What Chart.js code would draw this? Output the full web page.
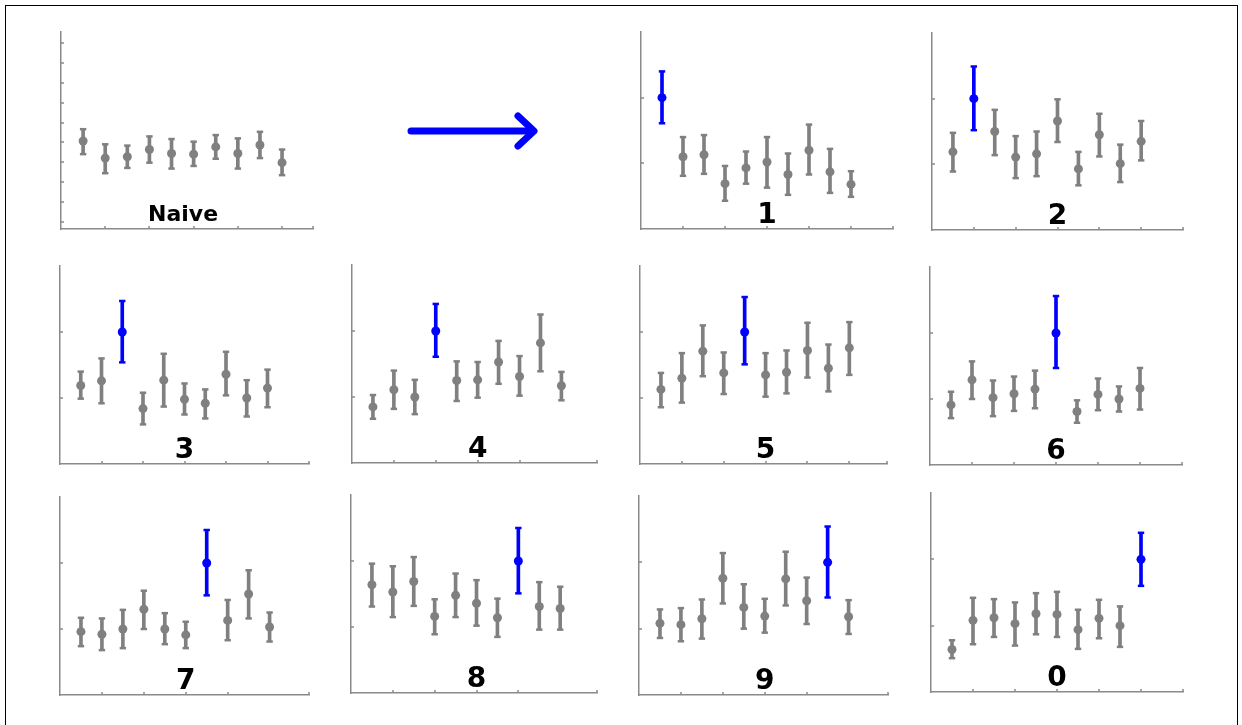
<!DOCTYPE html>
<html>
<head>
<meta charset="utf-8">
<script src="https://cdn.jsdelivr.net/npm/chart.js@4.4.1/dist/chart.umd.min.js"></script>
<style>
  html, body { margin: 0; padding: 0; background: #fff; width: 1242px; height: 725px; overflow: hidden; }
  #frame { position: absolute; left: 5px; top: 5px; width: 1233px; height: 740px; border: 1px solid #000; box-sizing: border-box; }
  .panel { position: absolute; }
  #arrow { position: absolute; left: 0; top: 0; }
</style>
</head>
<body>
<div id="frame"></div>
<svg id="arrow" width="1242" height="725">
  <g stroke="#0000ff" stroke-width="7" stroke-linecap="round" stroke-linejoin="round" fill="none">
    <line x1="411" y1="131" x2="532" y2="131"/>
    <polyline points="518,116 534,131 518,146"/>
  </g>
</svg>
<script>
// Stimulus positions along the x axis (same for every panel)
const positions = [0.5, 1, 1.5, 2, 2.5, 3, 3.5, 4, 4.5, 5];

// Panel labels, in drawing order
const panelLabels = ['Naive', '1', '2', '3', '4', '5', '6', '7', '8', '9', '0'];
// Index of the highlighted (blue) position in each panel, -1 for none
const highlighted = [-1, 0, 1, 2, 3, 4, 5, 6, 7, 8, 9];

// Response means and error-bar limits per panel
const meanNaive = [1.34, 1.08, 1.10, 1.21, 1.15, 1.14, 1.25, 1.15, 1.28, 1.01];
const lowNaive  = [1.14, 0.85, 0.93, 1.01, 0.92, 0.96, 1.07, 0.92, 1.08, 0.82];
const highNaive = [1.52, 1.29, 1.27, 1.41, 1.37, 1.33, 1.43, 1.38, 1.48, 1.21];

const mean1 = [2.00, 1.10, 1.13, 0.69, 0.93, 1.02, 0.83, 1.20, 0.87, 0.68];
const low1  = [1.61, 0.81, 0.84, 0.43, 0.69, 0.63, 0.52, 0.83, 0.55, 0.49];
const high1 = [2.40, 1.40, 1.43, 0.96, 1.18, 1.40, 1.15, 1.59, 1.22, 0.88];

const mean2 = [1.19, 2.00, 1.50, 1.11, 1.16, 1.66, 0.93, 1.45, 1.01, 1.35];
const low2  = [0.89, 1.52, 1.14, 0.79, 0.82, 1.34, 0.68, 1.12, 0.73, 1.06];
const high2 = [1.48, 2.49, 1.83, 1.43, 1.50, 1.99, 1.19, 1.77, 1.30, 1.66];

const mean3 = [1.19, 1.26, 2.00, 0.84, 1.27, 0.98, 0.92, 1.36, 1.00, 1.15];
const low3  = [0.99, 0.92, 1.54, 0.60, 0.87, 0.75, 0.69, 1.04, 0.72, 0.86];
const high3 = [1.40, 1.60, 2.47, 1.08, 1.67, 1.22, 1.13, 1.70, 1.27, 1.43];

const mean4 = [0.85, 1.11, 1.00, 2.00, 1.25, 1.26, 1.53, 1.31, 1.82, 1.17];
const low4  = [0.67, 0.82, 0.74, 1.61, 0.94, 0.99, 1.20, 1.02, 1.39, 0.95];
const high4 = [1.03, 1.40, 1.26, 2.41, 1.54, 1.53, 1.85, 1.62, 2.25, 1.38];

const mean5 = [1.13, 1.30, 1.71, 1.38, 2.00, 1.35, 1.39, 1.72, 1.45, 1.76];
const low5  = [0.86, 0.93, 1.33, 1.06, 1.51, 1.02, 1.07, 1.31, 1.10, 1.35];
const high5 = [1.38, 1.68, 2.10, 1.69, 2.53, 1.68, 1.72, 2.14, 1.81, 2.15];

const mean6 = [0.91, 1.29, 1.02, 1.08, 1.15, 2.00, 0.81, 1.07, 1.00, 1.16];
const low6  = [0.71, 1.00, 0.74, 0.82, 0.86, 1.47, 0.64, 0.83, 0.81, 0.84];
const high6 = [1.11, 1.57, 1.28, 1.34, 1.43, 2.56, 0.98, 1.31, 1.19, 1.47];

const mean7 = [0.96, 0.92, 1.00, 1.30, 1.00, 0.91, 2.00, 1.13, 1.53, 1.03];
const low7  = [0.74, 0.68, 0.71, 1.00, 0.77, 0.71, 1.51, 0.83, 1.16, 0.81];
const high7 = [1.17, 1.16, 1.29, 1.58, 1.24, 1.11, 2.50, 1.44, 1.89, 1.25];

const mean8 = [1.64, 1.53, 1.69, 1.16, 1.48, 1.36, 1.14, 2.00, 1.31, 1.28];
const low8  = [1.31, 1.15, 1.32, 0.89, 1.15, 1.02, 0.85, 1.51, 0.96, 0.96];
const high8 = [1.96, 1.92, 2.06, 1.42, 1.81, 1.71, 1.43, 2.50, 1.68, 1.61];

const mean9 = [1.08, 1.06, 1.15, 1.76, 1.32, 1.19, 1.75, 1.42, 2.00, 1.18];
const low9  = [0.86, 0.81, 0.85, 1.38, 1.00, 0.94, 1.35, 1.07, 1.47, 0.92];
const high9 = [1.29, 1.31, 1.44, 2.14, 1.67, 1.45, 2.16, 1.77, 2.54, 1.43];

const mean0 = [0.64, 1.08, 1.12, 1.03, 1.18, 1.17, 0.94, 1.11, 1.00, 2.00];
const low0  = [0.51, 0.72, 0.83, 0.70, 0.87, 0.83, 0.65, 0.81, 0.68, 1.60];
const high0 = [0.78, 1.42, 1.40, 1.35, 1.49, 1.51, 1.24, 1.39, 1.29, 2.40];

// Y tick marks
const yTicksDigit = [1, 2];
const yTicksNaive = [0.106, 0.409, 0.712, 1.015, 1.318, 1.621, 1.924, 2.227, 2.53, 2.833];

const means = [meanNaive, mean1, mean2, mean3, mean4, mean5, mean6, mean7, mean8, mean9, mean0];
const lows  = [lowNaive,  low1,  low2,  low3,  low4,  low5,  low6,  low7,  low8,  low9,  low0];
const highs = [highNaive, high1, high2, high3, high4, high5, high6, high7, high8, high9, high0];

// Plot-area boxes on the page [left, top, right, bottom] and x-axis extent
const boxes = [
  [61, 32, 313, 229], [641, 32, 893, 229], [932, 33, 1183, 230],
  [60, 266, 309, 464], [352, 265, 597, 463], [640, 266, 887, 464], [930, 267, 1182, 465],
  [60, 497, 309, 695], [351, 495, 597, 693], [639, 496, 888, 695], [931, 493, 1183, 692]
];
const xMaxes = [5.7, 6, 6, 6, 5.85, 5.9, 6, 5.94, 5.88, 5.94, 6];

const GRAY = '#808080';
const BLUE = '#0000ff';
const AXIS = '#8a8a8a';
const PAD = 10;

// Short inward tick marks plus the panel caption
const panelDecor = {
  id: 'panelDecor',
  afterDraw(chart, args, opts) {
    const { ctx, chartArea: { left, bottom }, scales: { x, y } } = chart;
    ctx.save();
    ctx.strokeStyle = AXIS;
    ctx.lineWidth = 1.5;
    ctx.beginPath();
    x.ticks.forEach(t => {
      if (t.value <= x.min) return;
      const px = Math.round(x.getPixelForValue(t.value));
      ctx.moveTo(px, bottom);
      ctx.lineTo(px, bottom - 3);
    });
    y.ticks.forEach(t => {
      if (t.value <= y.min) return;
      const py = Math.round(y.getPixelForValue(t.value));
      ctx.moveTo(left, py);
      ctx.lineTo(left + 3, py);
    });
    ctx.stroke();
    ctx.fillStyle = '#000';
    ctx.font = opts.font;
    ctx.textAlign = 'center';
    ctx.textBaseline = 'alphabetic';
    ctx.fillText(opts.text, x.getPixelForValue(opts.at[0]), y.getPixelForValue(opts.at[1]));
    ctx.restore();
  }
};

panelLabels.forEach((label, p) => {
  const [L, T, R, B] = boxes[p];
  const wrap = document.createElement('div');
  wrap.className = 'panel';
  wrap.style.left = (L - PAD) + 'px';
  wrap.style.top = (T - PAD) + 'px';
  wrap.style.width = (R - L + 2 * PAD) + 'px';
  wrap.style.height = (B - T + 2 * PAD) + 'px';
  const canvas = document.createElement('canvas');
  wrap.appendChild(canvas);
  document.body.appendChild(wrap);

  const hi = highlighted[p];
  const colorAt = i => (i === hi ? BLUE : GRAY);
  const colors = positions.map((_, i) => colorAt(i));
  const isNaive = p === 0;
  const yTicks = isNaive ? yTicksNaive : yTicksDigit;

  const capData = [];
  const capColors = [];
  positions.forEach((x, i) => {
    capData.push({ x, y: lows[p][i] }, { x, y: highs[p][i] });
    capColors.push(colorAt(i), colorAt(i));
  });

  new Chart(canvas, {
    type: 'bar',
    data: {
      datasets: [
        {
          type: 'scatter',
          data: positions.map((x, i) => ({ x, y: means[p][i] })),
          pointRadius: 4.5,
          pointBackgroundColor: colors,
          pointBorderWidth: 0,
          order: 0
        },
        {
          type: 'scatter',
          data: capData,
          pointStyle: 'line',
          pointRadius: 3.2,
          pointBorderWidth: 2.5,
          pointBorderColor: capColors,
          order: 1
        },
        {
          type: 'bar',
          data: positions.map((x, i) => ({ x, y: [lows[p][i], highs[p][i]] })),
          backgroundColor: colors,
          borderWidth: 0,
          barThickness: 3,
          grouped: false,
          order: 2
        }
      ]
    },
    options: {
      responsive: true,
      maintainAspectRatio: false,
      animation: false,
      events: [],
      layout: { padding: PAD },
      plugins: {
        legend: { display: false },
        tooltip: { enabled: false },
        panelDecor: {
          text: label,
          font: isNaive ? 'bold 22px "DejaVu Sans"' : 'bold 28px "DejaVu Sans"',
          at: isNaive ? [2.76, 0.115] : [3, 0.09]
        }
      },
      scales: {
        x: {
          type: 'linear', min: 0, max: xMaxes[p], offset: false,
          ticks: { display: false, stepSize: 1 },
          grid: { display: false, drawTicks: false },
          border: { display: true, color: AXIS, width: 1.5 }
        },
        y: {
          type: 'linear', min: 0, max: 3,
          afterBuildTicks: scale => { scale.ticks = yTicks.map(v => ({ value: v })); },
          ticks: { display: false },
          grid: { display: false, drawTicks: false },
          border: { display: true, color: AXIS, width: 1.5 }
        }
      }
    },
    plugins: [panelDecor]
  });
});
</script>
</body>
</html>
